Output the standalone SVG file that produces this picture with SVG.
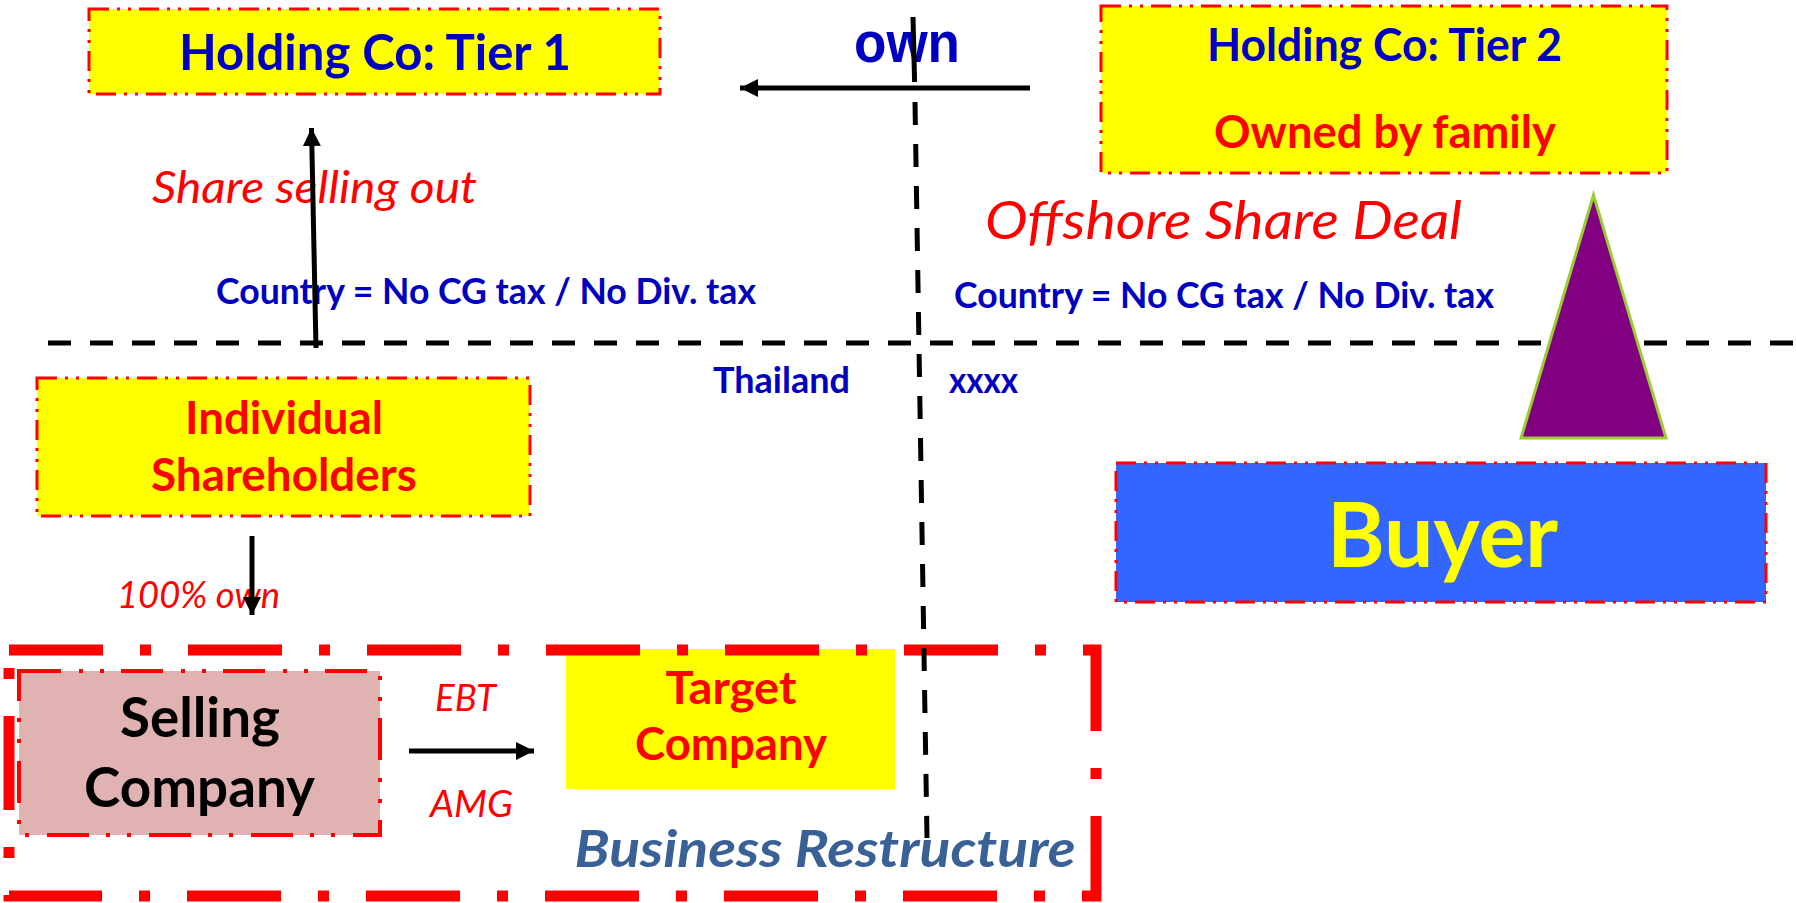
<svg xmlns="http://www.w3.org/2000/svg" width="1796" height="903" viewBox="0 0 1796 903">
<style>
.t{font-family:Lato,"Noto Sans","Liberation Sans",sans-serif;text-anchor:middle}
.b{font-weight:bold}
.i{font-style:italic}
.blue{fill:#0000C0}
.red{fill:#FF0000}
.box{stroke:#FF0000;stroke-width:3;stroke-dasharray:20 8 3 8 3 8}
.ln{stroke:#000;stroke-width:5;fill:none}
.dash{stroke:#000;stroke-width:5;fill:none;stroke-dasharray:23 19}
</style>
<defs>
<marker id="ah" markerUnits="userSpaceOnUse" markerWidth="20" markerHeight="18" refX="18" refY="9" orient="auto">
<path d="M0,0 L18,9 L0,18 Z" fill="#000"/>
</marker>
</defs>
<rect width="1796" height="903" fill="#fff"/>

<g id="target-company">
<rect x="566" y="649" width="329" height="140" fill="#FFFF00"/>
<text class="t b red" x="731" y="704" font-size="46" textLength="131" lengthAdjust="spacingAndGlyphs">Target</text>
<text class="t b red" x="731" y="760" font-size="46" textLength="192" lengthAdjust="spacingAndGlyphs">Company</text>
</g>

<g id="business-restructure">
<rect x="9" y="650" width="1087" height="246" fill="none" stroke="#FF0000" stroke-width="11" stroke-dasharray="94 37 11 37"/>
<text class="t b i" x="825" y="867" font-size="52" fill="#3A6196" textLength="501" lengthAdjust="spacingAndGlyphs">Business Restructure</text>
</g>

<g id="holding-tier1">
<rect class="box" x="89" y="9" width="571" height="85" fill="#FFFF00"/>
<text class="t b blue" x="375" y="70" font-size="50" textLength="392" lengthAdjust="spacingAndGlyphs">Holding Co: Tier 1</text>
</g>

<g id="holding-tier2">
<rect class="box" x="1101" y="6" width="566" height="167" fill="#FFFF00"/>
<text class="t b blue" x="1384.5" y="61" font-size="45" textLength="355" lengthAdjust="spacingAndGlyphs">Holding Co: Tier 2</text>
<text class="t b red" x="1385" y="148" font-size="45" textLength="342" lengthAdjust="spacingAndGlyphs">Owned by family</text>
</g>

<g id="individual-shareholders">
<rect class="box" x="37" y="378" width="493" height="138" fill="#FFFF00"/>
<text class="t b red" x="284" y="434" font-size="46" textLength="198" lengthAdjust="spacingAndGlyphs">Individual</text>
<text class="t b red" x="284" y="491" font-size="46" textLength="266" lengthAdjust="spacingAndGlyphs">Shareholders</text>
</g>

<g id="selling-company">
<rect x="19" y="671" width="361" height="164" fill="#E0B2B2" stroke="#FF0000" stroke-width="4" stroke-dasharray="42 18 4 17 4 17"/>
<text class="t b" x="200" y="737" font-size="55" fill="#000" textLength="160" lengthAdjust="spacingAndGlyphs">Selling</text>
<text class="t b" x="199.5" y="807" font-size="55" fill="#000" textLength="231" lengthAdjust="spacingAndGlyphs">Company</text>
</g>

<g id="buyer">
<rect class="box" x="1116" y="463" width="650" height="139" fill="#3366FF"/>
<text class="t b" x="1442.5" y="567" font-size="90" fill="#FFFF00" textLength="231" lengthAdjust="spacingAndGlyphs">Buyer</text>
</g>

<g id="labels">
<text class="t i red" x="314.5" y="203" font-size="44" textLength="325" lengthAdjust="spacingAndGlyphs">Share selling out</text>
<text class="t i red" x="1223.5" y="239" font-size="53" textLength="477" lengthAdjust="spacingAndGlyphs">Offshore Share Deal</text>
<text class="t b blue" x="486" y="304" font-size="37" textLength="540" lengthAdjust="spacingAndGlyphs">Country = No CG tax / No Div. tax</text>
<text class="t b blue" x="1224" y="308" font-size="37" textLength="540" lengthAdjust="spacingAndGlyphs">Country = No CG tax / No Div. tax</text>
<text class="t b blue" x="781.5" y="393" font-size="36" textLength="137" lengthAdjust="spacingAndGlyphs">Thailand</text>
<text class="t b blue" x="983.5" y="393" font-size="36" textLength="69" lengthAdjust="spacingAndGlyphs">xxxx</text>
<text class="t i red" x="198.5" y="608" font-size="36" textLength="163" lengthAdjust="spacingAndGlyphs">100% own</text>
<text class="t i red" x="465.5" y="711" font-size="37" textLength="61" lengthAdjust="spacingAndGlyphs">EBT</text>
<text class="t i red" x="471.5" y="817" font-size="37" textLength="83" lengthAdjust="spacingAndGlyphs">AMG</text>
<text x="907" y="62" font-family="'Liberation Sans',Arial,sans-serif" font-weight="bold" font-size="58" fill="#0000C0" text-anchor="middle" textLength="106" lengthAdjust="spacingAndGlyphs">own</text>
</g>

<g id="connectors">
<line class="dash" x1="48" y1="343" x2="1796" y2="343"/>
<line class="ln" x1="913" y1="17" x2="914.6" y2="82"/>
<line class="dash" x1="915" y1="102" x2="927" y2="838"/>
<line class="ln" x1="1030" y1="88" x2="740" y2="88" marker-end="url(#ah)"/>
<line class="ln" x1="316" y1="348" x2="311.5" y2="128" marker-end="url(#ah)"/>
<line class="ln" x1="252" y1="536" x2="252" y2="615" marker-end="url(#ah)"/>
<line class="ln" x1="409" y1="751" x2="534" y2="751" marker-end="url(#ah)"/>
</g>

<g id="triangle">
<polygon points="1593.5,195 1521,438 1666,438" fill="#800080" stroke="#9ACD32" stroke-width="3"/>
</g>
</svg>
